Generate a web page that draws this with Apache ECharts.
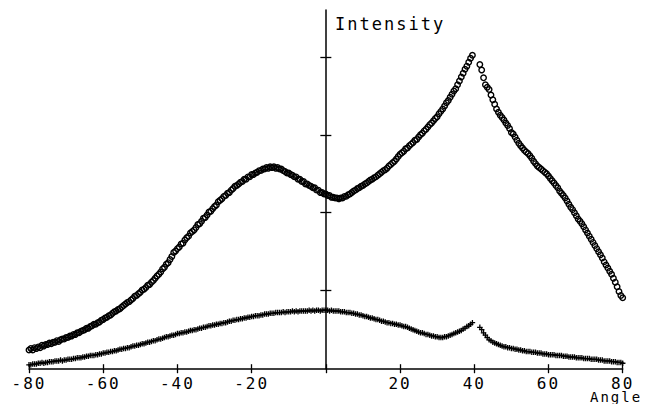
<!DOCTYPE html>
<html>
<head>
<meta charset="utf-8">
<script src="https://cdn.jsdelivr.net/npm/echarts@6/dist/echarts.min.js"></script>
<style>
  html, body { margin: 0; padding: 0; background: #fff; }
  #chart { width: 648px; height: 404px; }
  #chart text { letter-spacing: 2px; }
</style>
</head>
<body>
<div id="chart"></div>
<script>
// scan angles (deg), a few points missing around 40
const angles = [
  -80,-79.5,-79,-78.5,-78,-77.5,-77,-76.5,-76,-75.5,
  -75,-74.5,-74,-73.5,-73,-72.5,-72,-71.5,-71,-70.5,
  -70,-69.5,-69,-68.5,-68,-67.5,-67,-66.5,-66,-65.5,
  -65,-64.5,-64,-63.5,-63,-62.5,-62,-61.5,-61,-60.5,
  -60,-59.5,-59,-58.5,-58,-57.5,-57,-56.5,-56,-55.5,
  -55,-54.5,-54,-53.5,-53,-52.5,-52,-51.5,-51,-50.5,
  -50,-49.5,-49,-48.5,-48,-47.5,-47,-46.5,-46,-45.5,
  -45,-44.5,-44,-43.5,-43,-42.5,-42,-41.5,-41,-40.5,
  -40,-39.5,-39,-38.5,-38,-37.5,-37,-36.5,-36,-35.5,
  -35,-34.5,-34,-33.5,-33,-32.5,-32,-31.5,-31,-30.5,
  -30,-29.5,-29,-28.5,-28,-27.5,-27,-26.5,-26,-25.5,
  -25,-24.5,-24,-23.5,-23,-22.5,-22,-21.5,-21,-20.5,
  -20,-19.5,-19,-18.5,-18,-17.5,-17,-16.5,-16,-15.5,
  -15,-14.5,-14,-13.5,-13,-12.5,-12,-11.5,-11,-10.5,
  -10,-9.5,-9,-8.5,-8,-7.5,-7,-6.5,-6,-5.5,
  -5,-4.5,-4,-3.5,-3,-2.5,-2,-1.5,-1,-0.5,
  0,0.5,1,1.5,2,2.5,3,3.5,4,4.5,
  5,5.5,6,6.5,7,7.5,8,8.5,9,9.5,
  10,10.5,11,11.5,12,12.5,13,13.5,14,14.5,
  15,15.5,16,16.5,17,17.5,18,18.5,19,19.5,
  20,20.5,21,21.5,22,22.5,23,23.5,24,24.5,
  25,25.5,26,26.5,27,27.5,28,28.5,29,29.5,
  30,30.5,31,31.5,32,32.5,33,33.5,34,34.5,
  35,35.5,36,36.5,37,37.5,38,38.5,39,39.5,
  41.5,42,42.5,43,43.5,44,44.5,45,
  45.5,46,46.5,47,47.5,48,48.5,49,49.5,50,
  50.5,51,51.5,52,52.5,53,53.5,54,54.5,55,
  55.5,56,56.5,57,57.5,58,58.5,59,59.5,60,
  60.5,61,61.5,62,62.5,63,63.5,64,64.5,65,
  65.5,66,66.5,67,67.5,68,68.5,69,69.5,70,
  70.5,71,71.5,72,72.5,73,73.5,74,74.5,75,
  75.5,76,76.5,77,77.5,78,78.5,79,79.5,80
]

// circles (upper curve), intensity x100
const circleVals = [
  24,26,24,27,26,28,27,30,29,31,
  31,33,32,34,34,36,35,37,38,38,
  40,40,42,42,44,44,46,46,48,49,
  50,52,52,54,55,57,57,59,60,62,
  63,65,66,68,69,71,73,74,76,77,
  79,81,83,85,86,88,90,93,94,96,
  98,101,102,104,107,108,111,113,116,119,
  121,124,128,130,134,136,140,144,149,151,
  154,156,160,161,165,168,170,174,176,178,
  181,185,186,189,193,194,197,201,202,205,
  208,210,214,216,218,221,222,225,226,229,
  231,234,235,237,239,240,243,243,246,246,
  249,249,251,252,254,254,256,256,258,257,
  259,258,259,257,258,256,256,254,253,251,
  251,249,248,246,246,243,243,240,240,237,
  237,235,234,232,232,229,229,226,226,224,
  224,222,222,220,220,219,219,218,219,219,
  221,221,223,224,226,228,229,231,232,234,
  235,237,238,240,242,243,245,246,248,250,
  252,254,255,257,260,262,264,266,269,272,
  275,277,279,282,283,286,288,290,293,294,
  297,300,302,305,307,310,313,315,318,321,
  323,327,330,333,337,341,344,348,352,356,
  359,364,369,374,379,384,388,393,398,402,
  390,383,373,364,361,358,351,345,
  339,333,329,325,322,319,315,312,308,303,
  301,297,293,289,286,283,280,278,276,273,
  270,266,263,260,258,256,254,252,250,247,
  244,241,238,235,232,228,225,222,219,215,
  211,207,204,200,196,192,189,186,182,178,
  174,170,166,162,158,154,150,146,142,137,
  133,129,125,121,116,111,105,99,94,91
]

// crosses (lower curve), intensity x100
const plusVals = [
  5,5,6,6,6,7,7,8,7,8,
  8,9,9,9,10,10,10,11,10,11,
  11,12,12,12,13,13,14,14,14,15,
  15,16,16,17,17,17,18,18,19,19,
  20,20,21,21,22,22,23,23,24,25,
  25,26,26,27,27,28,29,29,30,30,
  31,32,32,33,34,34,35,36,36,37,
  38,38,39,40,41,41,42,43,43,44,
  45,45,46,46,47,47,48,49,49,50,
  50,51,52,52,53,53,54,55,55,56,
  56,57,57,58,58,59,59,60,61,61,
  62,62,63,63,64,64,65,65,66,66,
  67,67,68,68,68,69,69,70,70,70,
  71,71,71,72,72,72,72,73,72,73,
  73,73,74,73,74,73,74,74,74,74,
  74,75,74,75,74,75,75,74,75,75,
  75,75,74,75,74,74,74,74,73,73,
  73,72,72,72,71,71,70,70,69,69,
  68,67,67,66,65,65,64,63,63,62,
  61,61,60,59,59,58,58,57,57,56,
  56,55,54,54,53,52,51,50,49,48,
  47,46,46,45,44,44,43,42,42,41,
  41,40,40,40,41,41,42,43,44,45,
  46,47,48,49,51,52,54,55,57,59,
  53,50,46,43,40,37,36,34,
  33,32,31,30,29,28,28,27,27,26,
  26,25,25,24,24,23,23,22,22,22,
  21,21,21,20,20,20,19,19,19,18,
  18,18,18,17,17,17,17,16,16,16,
  15,15,15,15,14,14,14,14,13,13,
  13,13,12,12,12,12,11,11,11,10,
  10,10,10,9,9,9,8,8,8,7
]

const yTicks = [100, 200, 300, 400]

const chart = echarts.init(document.getElementById('chart'), null, { renderer: 'svg' })

const font = { fontFamily: 'DejaVu Sans Mono', fontSize: 16, color: '#000' }
const tickStyle = { color: '#000', width: 1.3 }
const plusPath = 'path://M-0.7,-3H0.7V-0.7H3V0.7H0.7V3H-0.7V0.7H-3V-0.7H-0.7Z'

const option = {
  animation: false,
  backgroundColor: '#fff',
  grid: { left: 29, right: 25.3, top: 10, bottom: 35.3, outerBoundsMode: 'none' },
  xAxis: [
    {
      type: 'value', min: -80, max: 80, interval: 20, position: 'bottom',
      axisLine: { onZero: false, lineStyle: { color: '#000', width: 1.5 } },
      axisTick: { inside: true, length: 4.5, lineStyle: tickStyle },
      axisLabel: { margin: 7, ...font, formatter: v => (v === 0 ? '' : String(v)) },
      splitLine: { show: false }
    },
    {
      type: 'value', min: -80, max: 80, interval: 20, position: 'bottom',
      axisLine: { show: false, onZero: false },
      axisTick: { inside: false, length: 4.5, lineStyle: tickStyle },
      axisLabel: { show: false },
      splitLine: { show: false }
    }
  ],
  yAxis: [
    {
      type: 'value', min: 0, max: 460, position: 'left',
      axisLine: { onZero: true, onZeroAxisIndex: 0, lineStyle: { color: '#000', width: 1.5 } },
      axisTick: { show: false },
      axisLabel: { show: false },
      splitLine: { show: false }
    },
    {
      type: 'value', min: 0, max: 460, position: 'left',
      axisLine: { show: false, onZero: true, onZeroAxisIndex: 0 },
      axisTick: { inside: true, length: 5.5, customValues: yTicks, lineStyle: tickStyle },
      axisLabel: { show: false },
      splitLine: { show: false }
    },
    {
      type: 'value', min: 0, max: 460, position: 'left',
      axisLine: { show: false, onZero: true, onZeroAxisIndex: 0 },
      axisTick: { inside: false, length: 5.5, customValues: yTicks, lineStyle: tickStyle },
      axisLabel: { show: false },
      splitLine: { show: false }
    }
  ],
  graphic: [
    {
      type: 'text', x: 335, y: 24,
      style: { text: 'Intensity', fontFamily: 'DejaVu Sans Mono', fontSize: 17, fill: '#000', align: 'left', verticalAlign: 'middle' }
    },
    {
      type: 'text', x: 590, y: 397,
      style: { text: 'Angle', fontFamily: 'DejaVu Sans Mono', fontSize: 14, fill: '#000', align: 'left', verticalAlign: 'middle' }
    }
  ],
  series: [
    {
      type: 'scatter', xAxisIndex: 0, yAxisIndex: 0, silent: true,
      symbol: 'circle', symbolSize: 5.5,
      itemStyle: { color: 'rgba(0,0,0,0)', borderColor: '#000', borderWidth: 1.4, opacity: 1 },
      data: angles.map((a, i) => [a, circleVals[i]])
    },
    {
      type: 'scatter', xAxisIndex: 0, yAxisIndex: 0, silent: true,
      symbol: plusPath, symbolSize: 5.5,
      itemStyle: { color: '#000', opacity: 1 },
      data: angles.map((a, i) => [a, plusVals[i]])
    }
  ]
}

chart.setOption(option)
</script>
</body>
</html>
